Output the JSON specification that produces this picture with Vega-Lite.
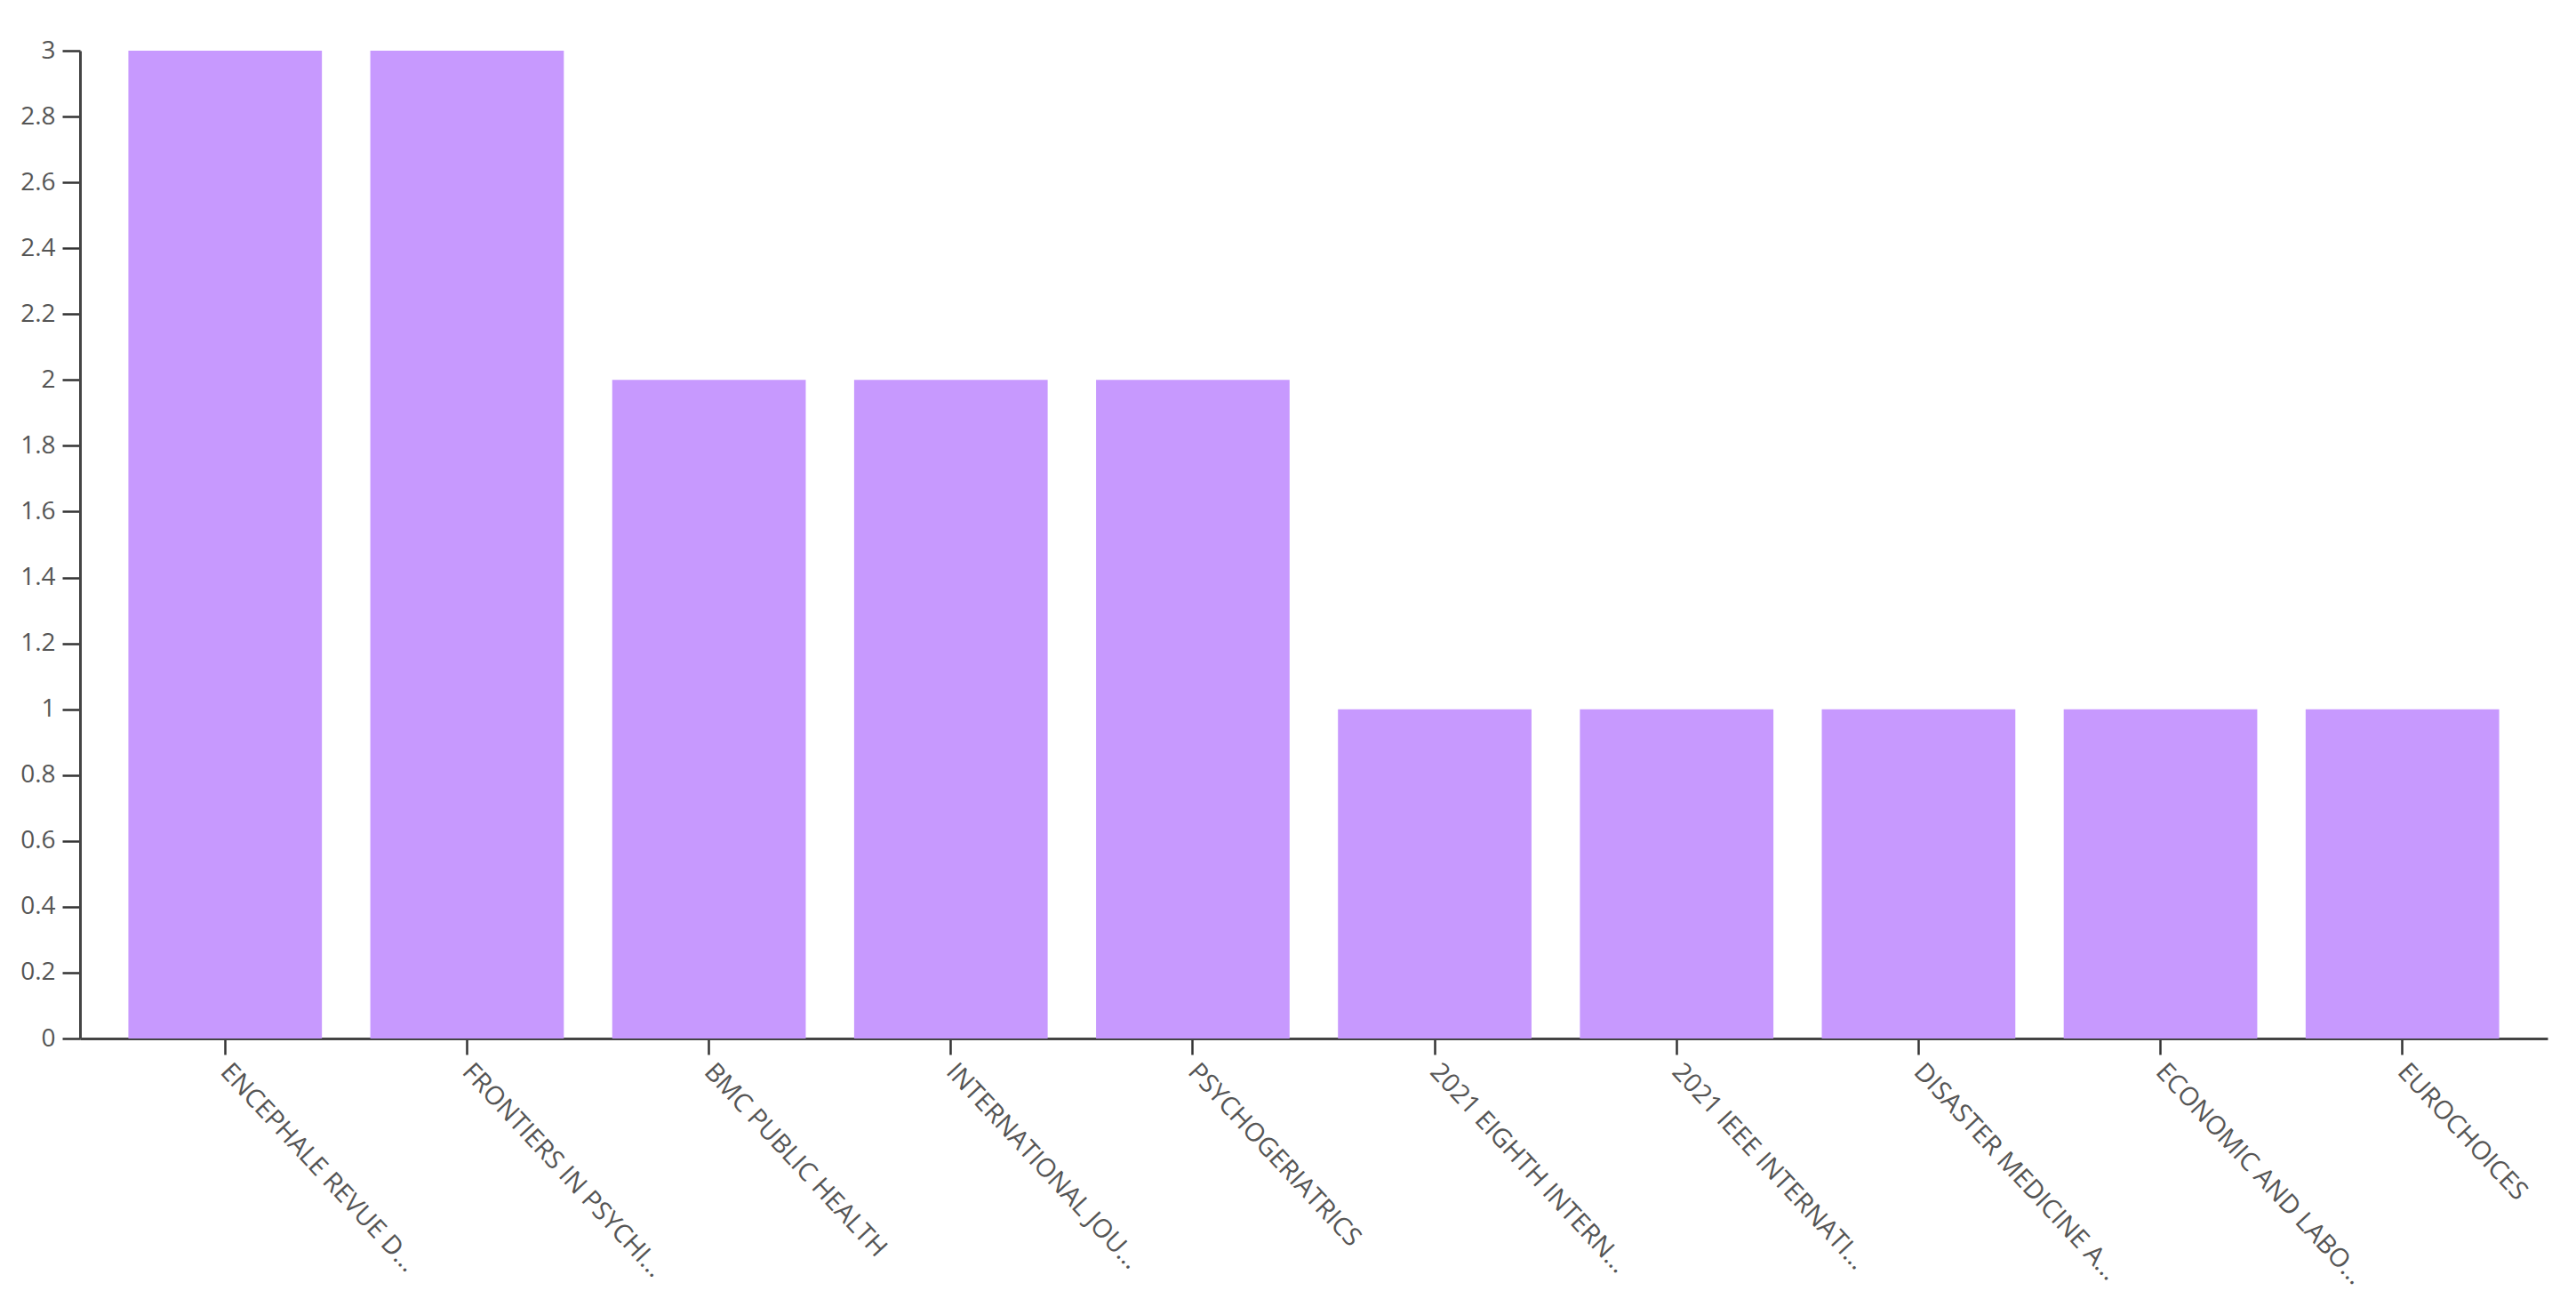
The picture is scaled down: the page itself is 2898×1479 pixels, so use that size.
{
  "$schema": "https://vega.github.io/schema/vega-lite/v6.json",
  "autosize": {"type": "none"},
  "padding": {"left": 90, "top": 57, "right": 32, "bottom": 311},
  "width": 2776,
  "height": 1111,
  "background": "white",
  "config": {"view": {"stroke": null}},
  "data": {
    "values": [
      {"source": "ENCEPHALE REVUE D...", "count": 3},
      {"source": "FRONTIERS IN PSYCHI...", "count": 3},
      {"source": "BMC PUBLIC HEALTH", "count": 2},
      {"source": "INTERNATIONAL JOU...", "count": 2},
      {"source": "PSYCHOGERIATRICS", "count": 2},
      {"source": "2021 EIGHTH INTERN...", "count": 1},
      {"source": "2021 IEEE INTERNATI...", "count": 1},
      {"source": "DISASTER MEDICINE A...", "count": 1},
      {"source": "ECONOMIC AND LABO...", "count": 1},
      {"source": "EUROCHOICES", "count": 1}
    ]
  },
  "mark": {"type": "bar", "color": "#c799fe"},
  "encoding": {
    "x": {
      "field": "source",
      "type": "nominal",
      "sort": null,
      "scale": {"paddingInner": 0.2, "paddingOuter": 0.2},
      "axis": {
        "title": null,
        "labelAngle": 47,
        "labelAlign": "left",
        "labelBaseline": "middle",
        "labelFont": "Open Sans",
        "labelFontSize": 29,
        "labelColor": "#555555",
        "labelPadding": 14,
        "labelLimit": 1000,
        "tickSize": 18,
        "tickWidth": 2.5,
        "tickColor": "#333333",
        "domainColor": "#444444",
        "domainWidth": 3
      }
    },
    "y": {
      "field": "count",
      "type": "quantitative",
      "scale": {"domain": [0, 3], "nice": false},
      "axis": {
        "title": null,
        "grid": false,
        "values": [0, 0.2, 0.4, 0.6, 0.8, 1, 1.2, 1.4, 1.6, 1.8, 2, 2.2, 2.4, 2.6, 2.8, 3],
        "format": "~g",
        "labelFont": "Open Sans",
        "labelFontSize": 28,
        "labelColor": "#555555",
        "labelPadding": 8,
        "tickSize": 20,
        "tickWidth": 2.5,
        "tickColor": "#333333",
        "domainColor": "#444444",
        "domainWidth": 3
      }
    }
  }
}
